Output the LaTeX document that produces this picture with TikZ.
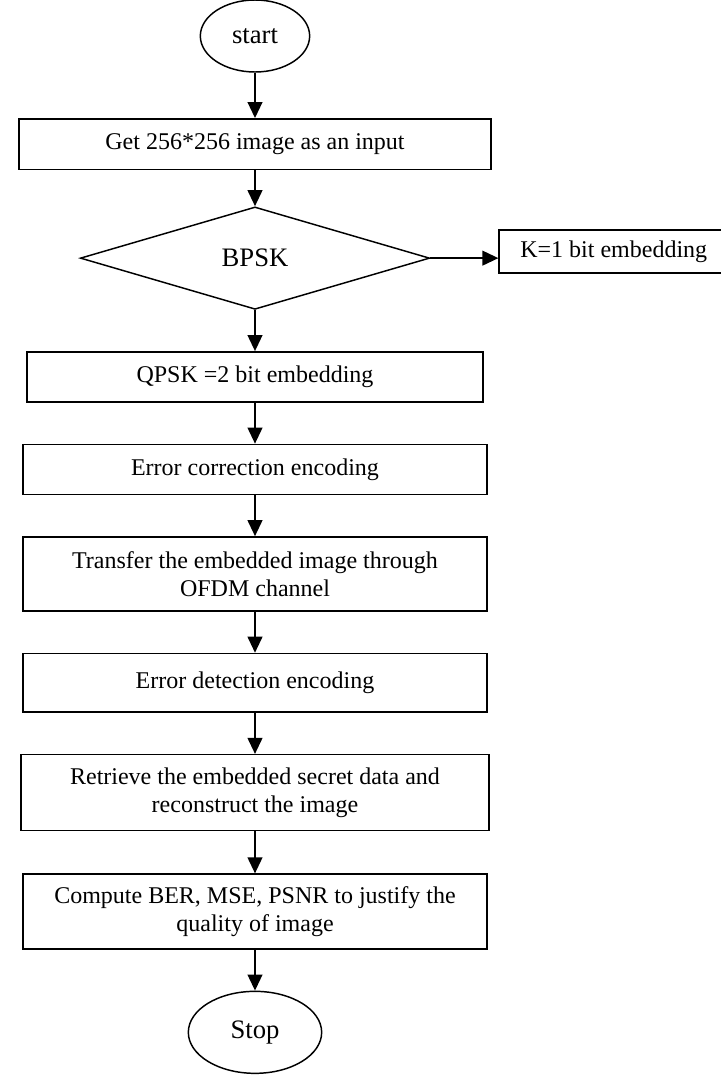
\documentclass[tikz,border=0pt]{standalone}
\usepackage{fontspec}
\setmainfont{Liberation Serif}
\usetikzlibrary{positioning,shapes.geometric,arrows.meta}

\begin{document}
\begin{tikzpicture}[node distance=30.8pt, font=\fontsize{18}{21}\selectfont]
\tikzstyle{proc}=[draw, line width=1.1pt, minimum width=348pt, minimum height=37.5pt, align=center]
\tikzstyle{term}=[draw, ellipse, line width=1.1pt, font=\fontsize{20}{24}\selectfont]
\tikzstyle{decision}=[draw, diamond, line width=1.1pt, minimum width=262pt, minimum height=76.5pt, font=\fontsize{20}{24}\selectfont]
\tikzstyle{flow}=[line width=1.5pt, -{Triangle[length=12pt,width=11pt]}]
\useasboundingbox (-191.25pt,27pt) rectangle (349.5pt,-779.25pt);
\node[term, minimum width=82pt, minimum height=54pt] (start) {start};
\node[proc, below=34pt of start, minimum width=354pt, minimum height=38pt] (input) {Get 256*256 image as an input};
\node[decision, below=27pt of input] (bpsk) {BPSK};
\node[proc, right=51pt of bpsk, yshift=5pt, minimum width=172pt, minimum height=32pt] (kbit) {K=1 bit embedding};
\node[proc, below=of bpsk, minimum width=342pt] (qpsk) {QPSK =2 bit embedding};
\node[proc, below=of qpsk] (ecc) {Error correction encoding};
\node[proc, below=of ecc, minimum height=55.5pt] (ofdm) {Transfer the embedded image through\\OFDM channel};
\node[proc, below=of ofdm, minimum height=44pt] (edc) {Error detection encoding};
\node[proc, below=of edc, minimum width=351pt, minimum height=57pt] (retr) {Retrieve the embedded secret data and\\reconstruct the image};
\node[proc, below=31.5pt of retr, minimum height=56pt] (metric) {Compute BER, MSE, PSNR to justify the\\quality of image};
\node[term, below=of metric, minimum width=100pt, minimum height=61.5pt] (stop) {Stop};
\draw[flow] (start)--(input);
\draw[flow] (input)--(bpsk);
\draw[flow] (bpsk.east)--(bpsk.east -| kbit.west);
\draw[flow] (bpsk)--(qpsk);
\draw[flow] (qpsk)--(ecc);
\draw[flow] (ecc)--(ofdm);
\draw[flow] (ofdm)--(edc);
\draw[flow] (edc)--(retr);
\draw[flow] (retr)--(metric);
\draw[flow] (metric)--(stop);
\end{tikzpicture}
\end{document}
